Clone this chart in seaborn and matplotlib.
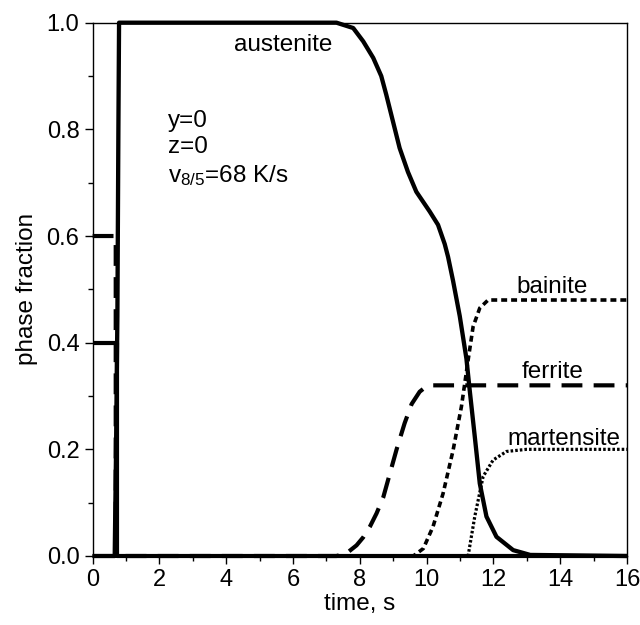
import numpy as np
import pandas as pd
import matplotlib
matplotlib.use("Agg")
import matplotlib.pyplot as plt
import seaborn as sns

# ---- data ----
aus_t = [0, 0.66, 0.70, 0.74, 0.77, 0.79, 7.3, 7.8, 8.1, 8.4, 8.64, 8.79, 8.99, 9.19,
         9.44, 9.69, 10.09, 10.34, 10.54, 10.64, 10.79, 10.99, 11.19, 11.29, 11.44,
         11.59, 11.79, 12.09, 12.59, 13.1, 16]
aus_f = [0, 0, 0.2, 0.45, 0.8, 1.0, 1.0, 0.99, 0.965, 0.934, 0.90, 0.865, 0.815, 0.765,
         0.72, 0.683, 0.646, 0.621, 0.585, 0.561, 0.516, 0.45, 0.37, 0.31, 0.224,
         0.136, 0.074, 0.036, 0.011, 0.002, 0]

fer_t = [0, 0.69, 0.69, 7.3, 7.6, 7.9, 8.1, 8.3, 8.5, 8.7, 8.9, 9.1, 9.34, 9.55, 9.79,
         9.95, 10.1, 16]
fer_f = [0.6, 0.6, 0, 0, 0.005, 0.02, 0.035, 0.055, 0.08, 0.11, 0.155, 0.2, 0.249, 0.285,
         0.308, 0.316, 0.32, 0.32]

prl_t = [0, 0.72, 0.72, 16]
prl_f = [0.4, 0.4, 0, 0]

bai_t = [0, 9.6, 9.9, 10.19, 10.49, 10.79, 11.04, 11.24, 11.39, 11.59, 11.84, 16]
bai_f = [0, 0, 0.014, 0.055, 0.117, 0.198, 0.28, 0.367, 0.43, 0.465, 0.48, 0.48]

mar_t = [0, 11.24, 11.44, 11.69, 11.99, 12.39, 12.99, 16]
mar_f = [0, 0, 0.074, 0.149, 0.18, 0.196, 0.2, 0.2]

labels = ["austenite", "bainite", "ferrite", "martensite"]
label_pos_t = [5.70, 13.77, 13.76, 14.1]
label_pos_f = [0.946, 0.493, 0.333, 0.208]
info_lines = ["y=0", "z=0", r"v$_{8/5}$=68 K/s"]
info_pos_f = [0.805, 0.755, 0.702]

x_ticks = [0, 2, 4, 6, 8, 10, 12, 14, 16]
y_ticks = [0.0, 0.2, 0.4, 0.6, 0.8, 1.0]

# ---- styling ----
sns.set_style("ticks")
plt.rcParams["font.family"] = ["Liberation Sans", "DejaVu Sans"]
plt.rcParams["mathtext.default"] = "regular"
plt.rcParams["text.color"] = "black"
plt.rcParams["axes.labelcolor"] = "black"

fig = plt.figure(figsize=(6.4, 6.25), dpi=100)
ax = fig.add_axes([0.1448, 0.1104, 0.835, 0.8533])

def draw(t, f, lw, dashes=None):
    df = pd.DataFrame({"t": t, "f": f})
    n0 = len(ax.lines)
    sns.lineplot(data=df, x="t", y="f", ax=ax, color="black", lw=lw,
                 sort=False, estimator=None, legend=False)
    line = ax.lines[n0]
    if dashes is not None:
        line.set_dashes(dashes)
    line.set_solid_capstyle("butt")
    line.set_dash_capstyle("butt")
    line.set_clip_on(False)

draw(prl_t, prl_f, 3.0)
draw(fer_t, fer_f, 3.0, (5.0, 2.7))
draw(bai_t, bai_f, 2.6, (1.65, 1.1))
draw(mar_t, mar_f, 2.3, (0.8, 0.65))
draw(aus_t, aus_f, 3.1)

ax.set_xlim(0, 16)
ax.set_ylim(0, 1.0)
ax.set_xticks(x_ticks)
ax.set_yticks(y_ticks)
ax.set_xticks(np.arange(1, 16, 2), minor=True)
ax.set_yticks(np.arange(0.1, 1.0, 0.2), minor=True)
ax.set_yticklabels([f"{v:.1f}" for v in y_ticks])
ax.tick_params(axis="both", which="major", direction="out", length=5.5, width=1,
               labelsize=17, colors="black", top=False, right=False, pad=4)
ax.tick_params(axis="both", which="minor", direction="out", length=3.5, width=1,
               colors="black", top=False, right=False)
for s in ax.spines.values():
    s.set_visible(True)
    s.set_color("black")
    s.set_linewidth(1.0)

ax.set_xlabel("time, s", fontsize=17.5, labelpad=1)
ax.set_ylabel("phase fraction", fontsize=17.5, labelpad=6)

for lab, tx, fy in zip(labels, label_pos_t, label_pos_f):
    ax.text(tx, fy, lab, fontsize=17.5, ha="center", va="baseline")

for s, fy in zip(info_lines, info_pos_f):
    ax.text(2.25, fy, s, fontsize=17.5, ha="left", va="baseline")

fig.savefig("out.png", dpi=100)
